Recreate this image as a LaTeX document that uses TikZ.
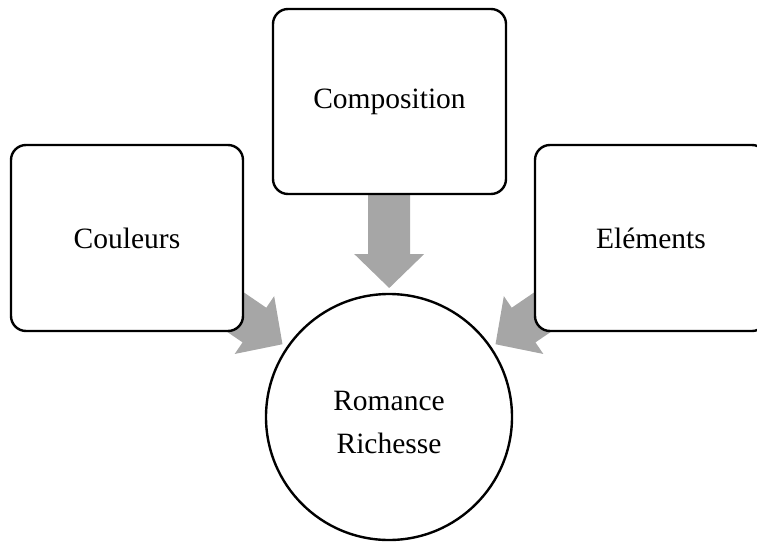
\documentclass[tikz,border=0pt]{standalone}
\usepackage{fontspec}
\setmainfont{Liberation Serif}
\usetikzlibrary{calc}
\definecolor{arrowgray}{RGB}{166,166,166}
\tikzset{
  box/.style={draw=black, line width=2.4pt, rounded corners=15pt, fill=white,
    minimum width=232pt, minimum height=186pt, inner sep=0pt,
    font=\fontsize{29.5}{35}\selectfont},
  hub/.style={draw=black, line width=2.4pt, circle, fill=white,
    minimum size=246pt, inner sep=0pt},
  hubtext/.style={align=center, inner sep=0pt, font=\fontsize{29.5}{43}\selectfont},
  blockarrow/.style={fill=arrowgray}
}
\newcommand\myblockarrow[2]{%
  \fill[blockarrow, shift={(#1)}, rotate=#2]
    (0,0) -- (-34,35) -- (-34,21) -- (-93,21) -- (-93,-21) -- (-34,-21) -- (-34,-35) -- cycle;}
\begin{document}
\begin{tikzpicture}[x=1pt, y=-1pt]
\useasboundingbox (0,0) rectangle (757,541);
\clip (0,0) rectangle (757,541);
% node positions
\coordinate (cC) at (389,417);
\coordinate (cL) at (127,238);
\coordinate (cT) at (389.5,101.5);
\coordinate (cR) at (651,238);
% arrow tips
\coordinate (tipL) at ($(cC)!129pt!(cL)$);
\coordinate (tipT) at ($(cC)!129pt!(cT)$);
\coordinate (tipR) at ($(cC)!129pt!(cR)$);
\myblockarrow{tipL}{-34.34}
\myblockarrow{tipT}{-90}
\myblockarrow{tipR}{-145.66}
% boxes
\node[box] (couleurs) at (cL) {Couleurs};
\node[box, minimum width=233pt, minimum height=185pt] (composition) at (cT) {Composition};
\node[box] (elements) at (cR) {Eléments};
\node[hub] (hub) at (cC) {};
\node[hubtext] (hublabel) at ([yshift=-5pt]hub.center) {Romance\\Richesse};
\end{tikzpicture}
\end{document}
